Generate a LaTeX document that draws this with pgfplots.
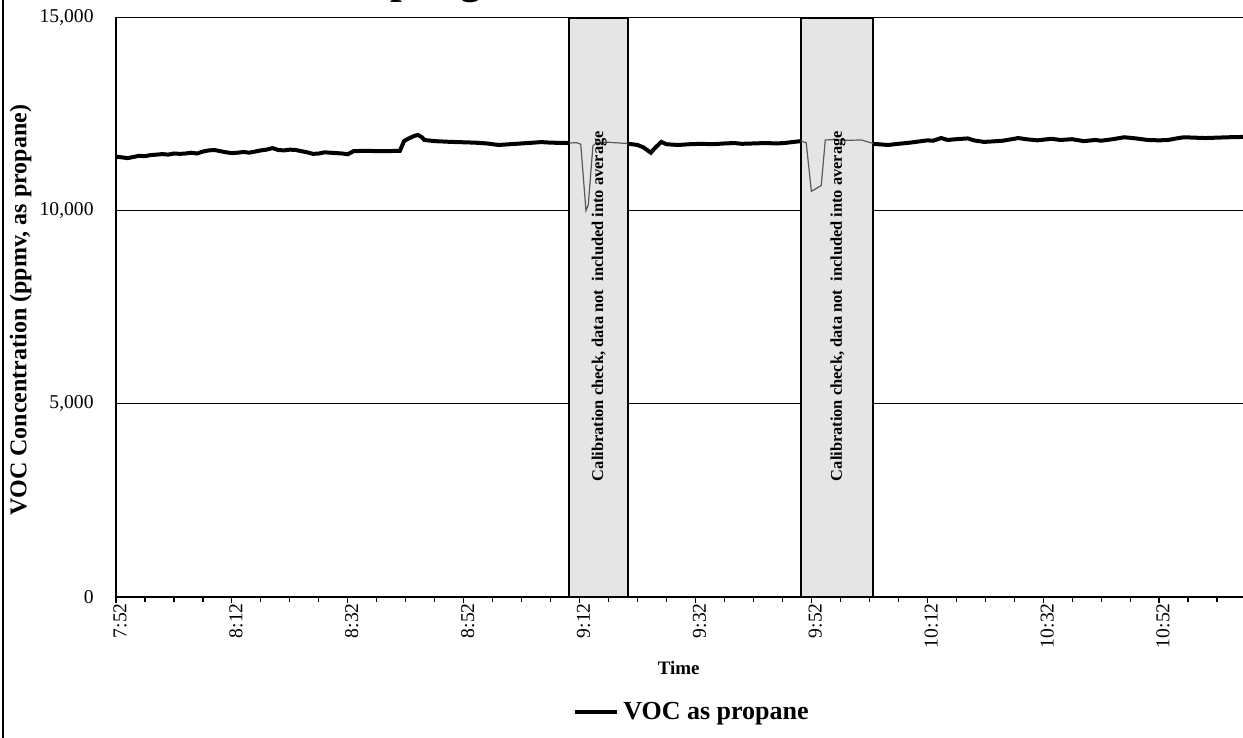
\documentclass[border=0pt]{standalone}
\usepackage{fontspec}
\setmainfont{Liberation Serif}
\usepackage{pgfplots}
\pgfplotsset{compat=1.18}
\begin{document}
\begin{tikzpicture}
\begin{axis}[name=ax, scale only axis, width=565pt, height=289.75pt,
  xmin=0, xmax=195, ymin=0, ymax=15000,
  xtick={0,20,...,180},
  xticklabels={7:52,8:12,8:32,8:52,9:12,9:32,9:52,10:12,10:32,10:52},
  minor xtick={0,5,...,195},
  ytick={0,5000,10000,15000},
  xtick pos=bottom, ytick pos=left,
  ymajorgrids, grid style={black, line width=0.5pt},
  ytick style={draw=none},
  tick align=outside,
  xtick style={black, line width=0.6pt},
  major tick length=3pt, minor tick length=2.5pt,
  scaled y ticks=false,
  /pgf/number format/1000 sep={,},
  /pgf/number format/assume math mode=true,
  tick label style={font=\fontsize{9.8}{11}\selectfont},
  yticklabel style={anchor=east, inner sep=0pt, xshift=-8pt},
  xticklabel style={rotate=90, anchor=east, inner sep=0pt, yshift=-2pt},
  axis line style={black, line width=0.8pt},
  title={Sampling Date: October 1, 2015},
  title style={at={(axis description cs:0.428,1.0215)}, anchor=base, font=\bfseries\fontsize{21}{24}\selectfont},
  ylabel={VOC Concentration (ppmv, as propane)},
  ylabel style={at={(axis description cs:-0.0845,0.495)}, anchor=center, font=\bfseries\fontsize{12}{14}\selectfont},
  xlabel={Time},
  xlabel style={at={(axis description cs:0.498,-0.1225)}, anchor=center, font=\bfseries\fontsize{9.5}{11}\selectfont},
  legend style={at={(axis description cs:0.5106,-0.1984)}, anchor=center, draw=none, fill=none, inner sep=0pt, font=\bfseries\fontsize{13}{15}\selectfont},
  legend image code/.code={\draw[line width=2pt,black] (0pt,0pt) -- (21pt,0pt);},
  legend cell align=left,
]
% calibration shaded windows
\addplot[fill=gray!20, draw=black, line width=1.1pt, forget plot] coordinates {(78.2,0) (78.2,15000) (88.3,15000) (88.3,0)} \closedcycle;
\addplot[fill=gray!20, draw=black, line width=1.1pt, forget plot] coordinates {(118.2,0) (118.2,15000) (130.7,15000) (130.7,0)} \closedcycle;
% calibration data (not averaged)
\addplot[gray!70!black, line width=0.6pt, forget plot] coordinates {
(78.2,11750) (79.5,11760) (80.2,11720) (81.1,10000) (81.5,10150) (82.3,11680) (83,11760) (85,11770) (87,11750) (88.3,11740)};
\addplot[gray!70!black, line width=0.6pt, forget plot] coordinates {
(118.2,11800) (119.1,11760) (120.0,10500) (121.7,10650) (122.4,11830) (124,11840) (126,11820) (128.6,11830) (130.7,11740)};
% main VOC series
\addplot[black, line width=2pt] coordinates {
(0,11400) (1,11380) (2,11360) (3,11390) (4,11420) (5,11410) (6,11440) (7,11450) (8,11465) (9,11450)
(10,11480) (11,11470) (12,11480) (13,11500) (14,11480) (15,11530) (16,11560) (17,11570) (18,11540) (19,11510)
(20,11490) (21,11500) (22,11520) (23,11500) (24,11530) (25,11560) (26,11580) (27,11620) (28,11570) (29,11560)
(30,11580) (31,11570) (32,11540) (33,11510) (34,11470) (35,11480) (36,11510) (37,11500) (38,11490) (39,11480)
(40,11460) (41,11540) (42,11545) (44,11545) (46,11540) (48,11545) (49,11550) (49.7,11800) (50.4,11860) (51.4,11930)
(52.1,11960) (52.8,11900) (53.2,11830) (55,11800) (57.8,11780) (60,11770) (62,11760) (64,11740) (66,11700) (68,11720)
(70,11740) (72,11760) (73.4,11775) (75,11760) (78.2,11750)};
\addlegendentry{VOC as propane}
\addplot[black, line width=2pt, forget plot] coordinates {
(88.3,11730) (89,11720) (90,11700) (91,11640) (92.3,11500) (93,11620) (94.1,11780) (95,11720) (97,11700) (99,11720)
(101,11730) (103,11720) (105,11740) (106.7,11750) (108,11730) (110,11740) (112,11750) (114,11740) (115.3,11750) (117,11780)
(118.2,11800)};
\addplot[black, line width=2pt, forget plot] coordinates {
(130.7,11720) (131.5,11720) (133.2,11700) (135,11730) (137,11760) (139,11800) (140,11820) (141,11810) (142.4,11880) (143.5,11830)
(145,11850) (147,11870) (148,11820) (149.8,11780) (151,11790) (153,11810) (155,11860) (155.7,11880) (157,11850) (159,11820)
(161.4,11860) (163,11830) (165,11850) (167,11800) (169,11830) (170,11810) (172,11850) (174,11900) (176,11870) (178,11830)
(180,11820) (181.6,11830) (183,11870) (184.3,11900) (186,11890) (188,11880) (190,11890) (192,11900) (195,11910)};
\node[rotate=90, font=\bfseries\fontsize{8.2}{10}\selectfont] at (axis cs:83.4,7530) {Calibration check, data not\ \ included into average};
\node[rotate=90, font=\bfseries\fontsize{8.2}{10}\selectfont] at (axis cs:124.6,7530) {Calibration check, data not\ \ included into average};
\end{axis}
\draw[line width=0.8pt] ([xshift=-56.5pt,yshift=-70.5pt]ax.south west) -- ([xshift=-56.5pt,yshift=298.5pt]ax.south west);
\pgfresetboundingbox
\useasboundingbox ([xshift=-58pt,yshift=-70.5pt]ax.south west) rectangle ([xshift=563.5pt,yshift=298.5pt]ax.south west);
\end{tikzpicture}
\end{document}
